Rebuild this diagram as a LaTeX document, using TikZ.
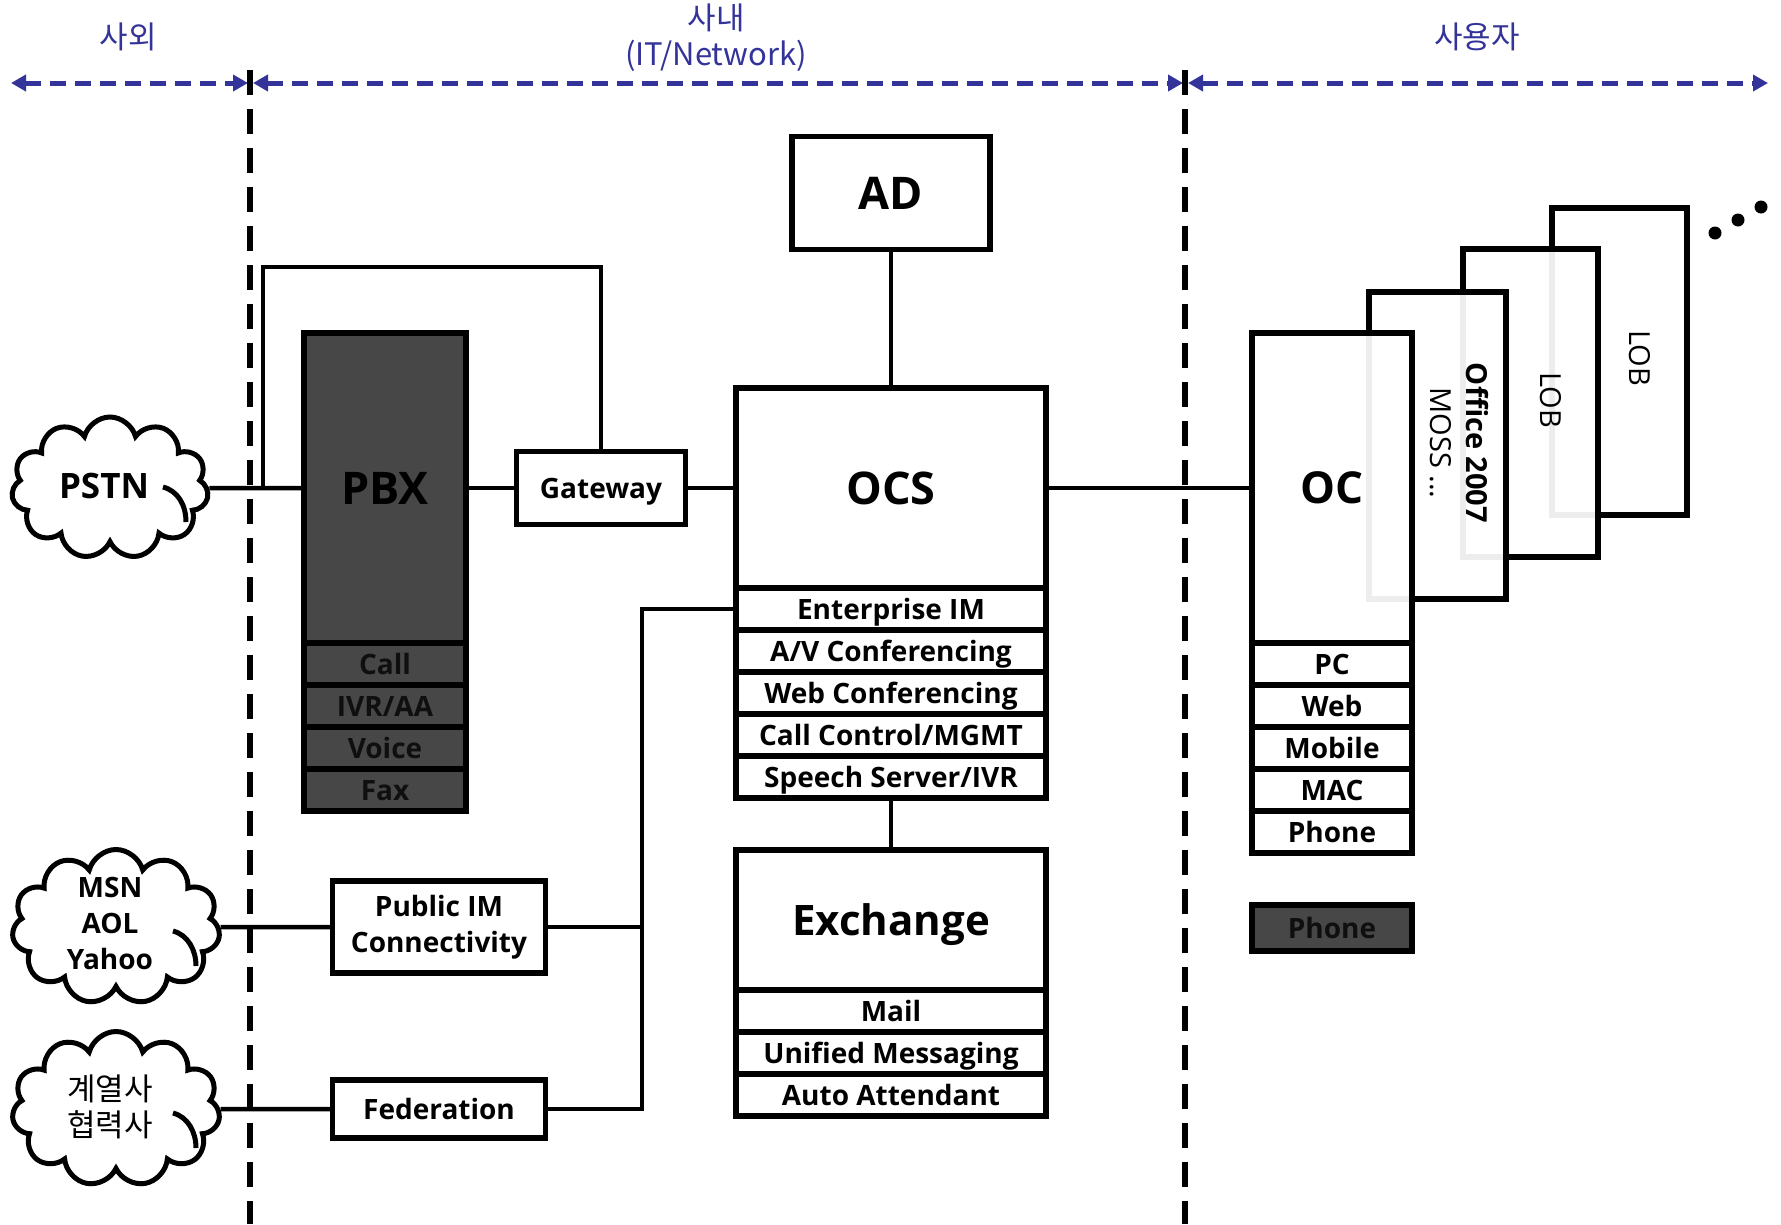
\documentclass[tikz,border=0pt]{standalone}
\usepackage{fontspec}
\setmainfont{Open Sans}
\newfontfamily\krfont{Noto Sans CJK KR}
\usetikzlibrary{shapes.symbols,arrows.meta}
\definecolor{navyline}{RGB}{51,51,153}
\definecolor{pbxfill}{RGB}{71,71,71}
\definecolor{pbxtext}{RGB}{15,15,15}
\begin{document}
\begin{tikzpicture}[x=1pt,y=-1pt,
  conn/.style={line width=4.5pt, black},
  frame/.style={draw, line width=5.5pt, fill=white, rectangle, inner sep=0pt, align=center},
  smalltxt/.style={font=\bfseries\fontsize{28}{34}\selectfont, text height=20pt, text depth=0pt},
  rowbox/.style={frame, minimum height=42pt, smalltxt},
  bigtxt/.style={font=\bfseries\fontsize{45}{50}\selectfont, text height=32pt, text depth=0pt},
  cloudy/.style={cloud, cloud puffs=11, cloud ignores aspect, draw, line width=5pt, fill=white, inner sep=0pt},
  cloudtxt/.style={font=\bfseries\fontsize{28}{36}\selectfont, align=center},
  cardtxt/.style={rotate=-90, align=center, font=\fontsize{29}{36}\selectfont},
  lbl/.style={text=navyline, font=\krfont\fontsize{31}{36}\selectfont, align=center},
  barrow/.style={navyline, line width=5pt, dash pattern=on 16pt off 9pt,
     {Triangle[length=15pt,width=16pt]}-{Triangle[length=15pt,width=16pt]}},
  vdash/.style={black, line width=5.5pt, dash pattern=on 25pt off 14pt},
  inarc/.style={line width=5pt, black}
]
\useasboundingbox[fill=white] (0,0) rectangle (1781,1224);

% ---- top labels and zone arrows
\node[lbl] (lout) at (128,37) {사외};
\node[lbl] (lin) at (716,38) {사내\\(IT/Network)};
\node[lbl] (luser) at (1477,37) {사용자};
\coordinate (a0) at (11,83);
\coordinate (a1) at (248,83);
\coordinate (a2) at (253,83);
\coordinate (a3) at (1183,83);
\coordinate (a4) at (1188,83);
\coordinate (a5) at (1768,83);
\draw[barrow] (a0) -- (a1);
\draw[barrow] (a2) -- (a3);
\draw[barrow] (a4) -- (a5);

% ---- zone separators
\coordinate (v1t) at (250,70);
\coordinate (v1b) at (250,1224);
\coordinate (v2t) at (1185,70);
\coordinate (v2b) at (1185,1224);
\draw[vdash] (v1t) -- (v1b);
\draw[vdash] (v2t) -- (v2b);

% ---- clouds
\node[cloudy, minimum width=197pt, minimum height=142pt] (pstn) at (110,488) {};
\node[cloudy, minimum width=208pt, minimum height=155pt] (msn) at (116,927) {};
\node[cloudy, minimum width=208pt, minimum height=155pt] (grp) at (116,1109) {};
\draw[inarc] (163,487) .. controls (178,491) and (186,505) .. (186,522);
\draw[inarc] (173,931) .. controls (188,935) and (196,950) .. (196,966);
\draw[inarc] (173,1113) .. controls (188,1117) and (196,1132) .. (196,1148);
\node[cloudtxt, font=\bfseries\fontsize{35}{40}\selectfont] (pstnT) at (104,486) {PSTN};
\node[cloudtxt] (msnT) at (110,923) {MSN\\AOL\\Yahoo};
\node[cloudtxt, font=\krfont\fontsize{31}{36}\selectfont] (grpT) at (110,1107) {계열사\\협력사};

% ---- nodes (left/middle)
\node[frame, fill=pbxfill, minimum width=162pt, minimum height=310pt, bigtxt] (pbx) at (385,488) {PBX};
\node[rowbox, fill=pbxfill, minimum width=162pt, text=pbxtext] (call) at (385,664) {Call};
\node[rowbox, fill=pbxfill, minimum width=162pt, text=pbxtext] (ivr) at (385,706) {IVR/AA};
\node[rowbox, fill=pbxfill, minimum width=162pt, text=pbxtext] (voice) at (385,748) {Voice};
\node[rowbox, fill=pbxfill, minimum width=162pt, text=pbxtext] (fax) at (385,790) {Fax};

\node[frame, minimum width=169pt, minimum height=73pt, smalltxt] (gw) at (601,488) {Gateway};

\node[frame, minimum width=198pt, minimum height=113pt, bigtxt] (ad) at (891,193) {AD};

\node[frame, minimum width=310pt, minimum height=200pt, bigtxt] (ocs) at (891,488) {OCS};
\node[rowbox, minimum width=310pt] (eim) at (891,609) {Enterprise IM};
\node[rowbox, minimum width=310pt] (av) at (891,651) {A/V Conferencing};
\node[rowbox, minimum width=310pt] (webc) at (891,693) {Web Conferencing};
\node[rowbox, minimum width=310pt] (cc) at (891,735) {Call Control/MGMT};
\node[rowbox, minimum width=310pt] (ss) at (891,777) {Speech Server/IVR};

\node[frame, minimum width=310pt, minimum height=140pt, font=\bfseries\fontsize{42}{46}\selectfont, text height=30pt, text depth=0pt] (exch) at (891,920) {Exchange};
\node[rowbox, minimum width=310pt] (mail) at (891,1011) {Mail};
\node[rowbox, minimum width=310pt] (um) at (891,1053) {Unified Messaging};
\node[rowbox, minimum width=310pt] (aa) at (891,1095) {Auto Attendant};

\node[frame, minimum width=213pt, minimum height=92pt, font=\bfseries\fontsize{28}{36}\selectfont] (pim) at (439,927) {Public IM\\Connectivity};
\node[frame, minimum width=213pt, minimum height=58pt, smalltxt] (fed) at (439,1109) {Federation};

% ---- client side stacked cards
\node[frame, minimum width=135pt, minimum height=307pt] (card3) at (1619.5,361.5) {};
\node[frame, minimum width=135pt, minimum height=308pt, fill opacity=0.93] (card2) at (1530.5,403) {};
\node[frame, minimum width=137pt, minimum height=307pt, fill opacity=0.93] (card1) at (1437.5,445.5) {};
\node[frame, minimum width=160pt, minimum height=310pt, fill opacity=0.93, text opacity=1, font=\bfseries\fontsize{44}{50}\selectfont, text height=31.4pt, text depth=0pt] (oc) at (1332,488) {OC};
\node[rowbox, minimum width=160pt] (pc) at (1332,664) {PC};
\node[rowbox, minimum width=160pt] (web) at (1332,706) {Web};
\node[rowbox, minimum width=160pt] (mob) at (1332,748) {Mobile};
\node[rowbox, minimum width=160pt] (mac) at (1332,790) {MAC};
\node[rowbox, minimum width=160pt] (ph) at (1332,832) {Phone};
\node[rowbox, minimum width=160pt, minimum height=46pt, fill=pbxfill, text=pbxtext] (ph2) at (1332,928) {Phone};

\node[cardtxt] (t1) at (1459,443) {{\bfseries Office 2007}\\MOSS ...};
\node[cardtxt] (t2) at (1551,400) {LOB};
\node[cardtxt] (t3) at (1640,358) {LOB};

\fill (1715,233) circle (6.5);
\fill (1738,220) circle (6.5);
\fill (1761,207) circle (6.5);

% ---- connectors
\coordinate (jn) at (263,488);
\coordinate (lt) at (263,267);
\coordinate (bus) at (642,609);
\draw[conn] (pstn.east) -- (pbx.west);
\draw[conn] (jn) -- (lt) -| (gw.north);
\draw[conn] (pbx.east) -- (gw.west);
\draw[conn] (gw.east) -- (ocs.west);
\draw[conn] (ocs.east) -- (oc.west);
\draw[conn] (ad.south) -- (ocs.north);
\draw[conn] (ss.south) -- (exch.north);
\draw[conn] (msn.east) -- (pim.west);
\draw[conn] (grp.east) -- (fed.west);
\draw[conn] (pim.east) -- (pim.east -| bus);
\draw[conn] (fed.east) -| (bus) -- (eim.west);
\end{tikzpicture}
\end{document}
